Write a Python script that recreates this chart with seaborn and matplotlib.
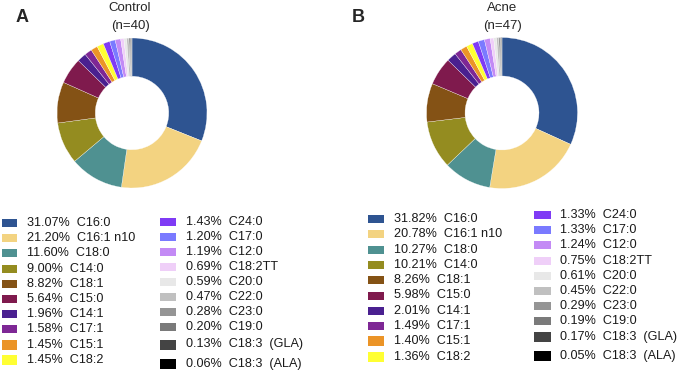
import matplotlib
matplotlib.use("Agg")
import matplotlib.pyplot as plt
import seaborn as sns
from matplotlib.patches import Rectangle

# fatty acid composition (%), same order in both groups
acids = ["C16:0", "C16:1 n10", "C18:0", "C14:0", "C18:1", "C15:0", "C14:1",
         "C17:1", "C15:1", "C18:2", "C24:0", "C17:0", "C12:0", "C18:2TT",
         "C20:0", "C22:0", "C23:0", "C19:0", "C18:3  (GLA)", "C18:3  (ALA)"]
control = [31.07, 21.20, 11.60, 9.00, 8.82, 5.64, 1.96, 1.58, 1.45, 1.45,
           1.43, 1.20, 1.19, 0.69, 0.59, 0.47, 0.28, 0.20, 0.13, 0.06]
acne = [31.82, 20.78, 10.27, 10.21, 8.26, 5.98, 2.01, 1.49, 1.40, 1.36,
        1.33, 1.33, 1.24, 0.75, 0.61, 0.45, 0.29, 0.19, 0.17, 0.05]
hex_colors = ["#2e5491", "#f3d381", "#4f9191", "#948c20", "#845215", "#7f1a4d",
              "#4a2090", "#7e2795", "#eb9427", "#ffff33", "#7f3bf5", "#7a7aff",
              "#c38af5", "#efcff8", "#e8e8e8", "#c0c0c0", "#959595", "#7a7a7a",
              "#444444", "#000000"]

sns.set_theme(style="white")
plt.rcParams['font.family'] = ['Liberation Sans', 'DejaVu Sans']
palette = sns.color_palette(hex_colors)

W, H = 677, 370
fig = plt.figure(figsize=(W / 100, H / 100), dpi=100)


def px_axes(cx, cy, r):
    return fig.add_axes([(cx - r) / W, (H - cy - r) / H, 2 * r / W, 2 * r / H])


def donut(cx, cy, r, values):
    ax = px_axes(cx, cy, r)
    ax.pie(values, colors=palette, startangle=90, counterclock=False,
           wedgeprops=dict(width=0.51, edgecolor='white', linewidth=0.2))
    ax.set_xlim(-1, 1)
    ax.set_ylim(-1, 1)
    ax.set_aspect('equal')
    ax.axis('off')


donut(132, 113, 75, control)
donut(502, 113, 75.5, acne)

# overlay in pixel coordinates for text and legends
ov = fig.add_axes([0, 0, 1, 1])
ov.set_xlim(0, W)
ov.set_ylim(H, 0)
ov.axis('off')

ov.text(22, 17, "A", fontsize=13, fontweight='bold', ha='center', va='center')
ov.text(358, 17, "B", fontsize=13, fontweight='bold', ha='center', va='center')
ov.text(130, 8, "Control", fontsize=9.5, ha='center', va='center')
ov.text(130, 26, "(n=40)", fontsize=9.5, ha='center', va='center')
ov.text(502, 8, "Acne", fontsize=9.5, ha='center', va='center')
ov.text(502, 26, "(n=47)", fontsize=9.5, ha='center', va='center')


def legend_col(x_patch, pw, x_text, y0, step, idx, values, extra=(0, 0)):
    for k, i in enumerate(idx):
        y = y0 + k * step
        ph = 8
        if k == len(idx) - 2:
            y += extra[0]
            ph = 10
        if k == len(idx) - 1:
            y += extra[1]
            ph = 10
        ov.add_patch(Rectangle((x_patch, y - ph / 2), pw, ph,
                               facecolor=palette[i], edgecolor='none'))
        ov.text(x_text, y, f"{values[i]:.2f}%  {acids[i]}", fontsize=9.1,
                ha='left', va='center', color='#1a1a1a')


first = list(range(10))
second = list(range(10, 20))
legend_col(2, 15, 27, 223, 15.2, first, control)
legend_col(160, 16, 186, 221.7, 15.1, second, control, extra=(2, 6))
legend_col(368, 16, 394, 219, 15.3, first, acne)
legend_col(534, 17, 560, 215, 15.2, second, acne, extra=(0.5, 4))

fig.savefig("out.png", dpi=100)
